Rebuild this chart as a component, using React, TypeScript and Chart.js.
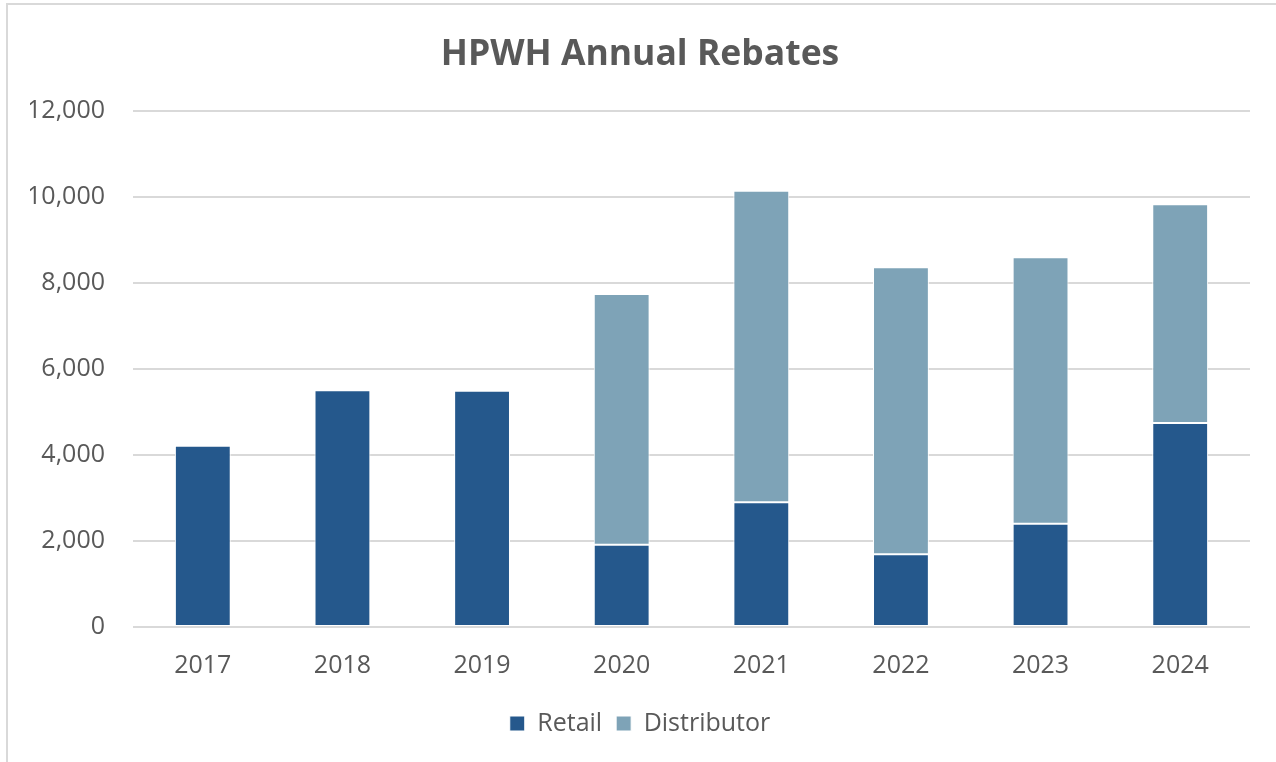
import React, { useEffect, useRef } from "react";
import { Chart, registerables } from "chart.js";

Chart.register(...registerables);

const categories = ["2017", "2018", "2019", "2020", "2021", "2022", "2023", "2024"];
const retail = [4210, 5500, 5490, 1910, 2900, 1690, 2400, 4740];
const distributor = [null, null, null, 5830, 7235, 6670, 6195, 5085];
const yTicks = [0, 2000, 4000, 6000, 8000, 10000, 12000];

const FONT = "'Open Sans', sans-serif";
const TEXT = "#595959";

export default function App() {
  const ref = useRef<HTMLCanvasElement | null>(null);

  useEffect(() => {
    if (!ref.current) return;
    const chart = new Chart(ref.current, {
      type: "bar",
      data: {
        labels: categories,
        datasets: [
          {
            label: "Retail",
            data: retail,
            backgroundColor: "#25588C",
            borderColor: "#ffffff",
            borderWidth: 1,
            borderSkipped: false,
            barPercentage: 0.4,
            categoryPercentage: 1,
          },
          {
            label: "Distributor",
            data: distributor as any,
            backgroundColor: "#7EA3B7",
            borderColor: "#ffffff",
            borderWidth: 1,
            borderSkipped: false,
            barPercentage: 0.4,
            categoryPercentage: 1,
          },
        ],
      },
      options: {
        animation: false,
        responsive: false,
        maintainAspectRatio: false,
        layout: { padding: { left: 30, right: 26, top: 0, bottom: 16 } },
        plugins: {
          title: {
            display: true,
            text: "HPWH Annual Rebates",
            color: TEXT,
            font: { family: FONT, size: 35.5, weight: "bold" },
            padding: { top: 34, bottom: 34 },
          },
          legend: {
            position: "bottom",
            labels: {
              color: TEXT,
              font: { family: FONT, size: 25 },
              boxWidth: 15,
              boxHeight: 15,
              padding: 14,
            },
          },
          tooltip: { enabled: false },
        },
        scales: {
          x: {
            stacked: true,
            grid: { display: false },
            border: { display: false },
            ticks: { color: TEXT, font: { family: FONT, size: 25 }, padding: 16 },
          },
          y: {
            stacked: true,
            min: 0,
            max: 12000,
            afterBuildTicks: (axis: any) => {
              axis.ticks = yTicks.map((v) => ({ value: v }));
            },
            afterFit: (axis: any) => {
              axis.width = 103;
            },
            grid: { color: "#d9d9d9", lineWidth: 2, drawTicks: false },
            border: { display: false },
            ticks: {
              color: TEXT,
              font: { family: FONT, size: 25 },
              padding: 28,
              callback: (v: any) => Number(v).toLocaleString("en-US"),
            },
          },
        },
      },
    });
    return () => chart.destroy();
  }, []);

  return (
    <div style={{ position: "fixed", left: 0, top: 0, width: 1276, height: 762, background: "#fff", overflow: "hidden" }}>
      <div
        style={{
          position: "absolute",
          left: 6,
          top: 3,
          width: 1400,
          height: 900,
          borderTop: "2px solid #d9d9d9",
          borderLeft: "2px solid #d9d9d9",
        }}
      />
      <canvas ref={ref} width={1276} height={762} style={{ position: "absolute", left: 0, top: 0, width: 1276, height: 762 }} />
    </div>
  );
}
